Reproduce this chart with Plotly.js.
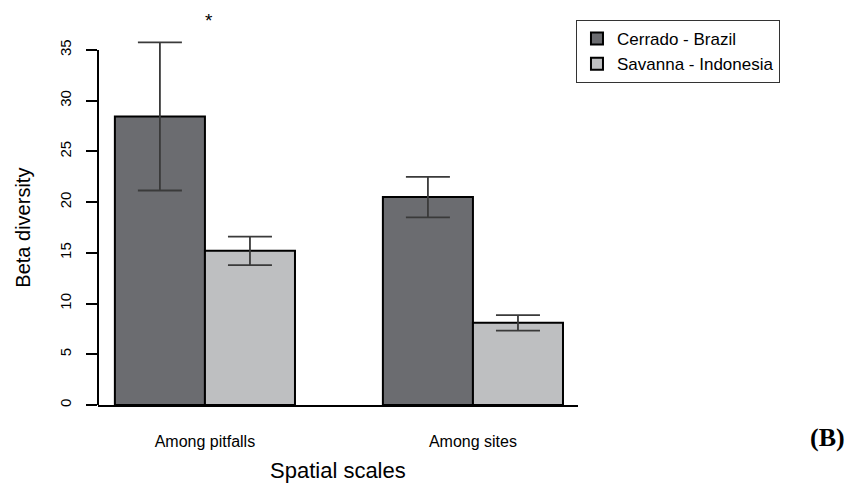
<!DOCTYPE html>
<html>
<head>
<meta charset="utf-8">
<script src="https://cdn.plot.ly/plotly-3.0.1.min.js"></script>
<style>
  html, body { margin: 0; padding: 0; background: #fff; }
  #chart { width: 854px; height: 487px; }
</style>
</head>
<body>
<div id="chart"></div>
<script>
const categories = ['Among pitfalls', 'Among sites'];
const seriesNames = ['Cerrado - Brazil', 'Savanna - Indonesia'];
const cerradoValues = [28.45, 20.5];
const cerradoErrors = [7.3, 2.0];
const savannaValues = [15.2, 8.1];
const savannaErrors = [1.4, 0.77];
const yTickValues = [0, 5, 10, 15, 20, 25, 30, 35];

const FONT = 'Liberation Sans, Arial, Helvetica, sans-serif';

const errStyle = { type: 'data', visible: true, color: '#3a3a3a', thickness: 1.8, width: 22 };

const traces = [
  {
    type: 'bar', name: seriesNames[0], x: categories, y: cerradoValues,
    marker: { color: '#6b6c70', line: { color: '#000000', width: 2 } },
    error_y: Object.assign({ array: cerradoErrors }, errStyle),
    hoverinfo: 'skip'
  },
  {
    type: 'bar', name: seriesNames[1], x: categories, y: savannaValues,
    marker: { color: '#bebfc1', line: { color: '#000000', width: 2 } },
    error_y: Object.assign({ array: savannaErrors }, errStyle),
    hoverinfo: 'skip'
  }
];

const layout = {
  width: 854, height: 487,
  margin: { l: 98, r: 276, t: 20, b: 82, pad: 0 },
  paper_bgcolor: '#ffffff', plot_bgcolor: '#ffffff',
  font: { family: FONT, color: '#000000' },
  barmode: 'group', bargap: 0.328, bargroupgap: 0,
  showlegend: true,
  legend: {
    x: 0.9958, y: 1.0, xanchor: 'left', yanchor: 'top',
    bordercolor: '#333333', borderwidth: 1, bgcolor: '#ffffff',
    font: { family: FONT, size: 17, color: '#000000' },
    traceorder: 'normal'
  },
  xaxis: {
    type: 'category', range: [-0.399, 1.392],
    showline: true, linecolor: '#000000', linewidth: 2,
    ticks: '', showgrid: false, zeroline: false,
    tickfont: { family: FONT, size: 16, color: '#000000' },
    ticklabelstandoff: 21, fixedrange: true
  },
  yaxis: {
    range: [0, 37.96], tickvals: yTickValues, ticktext: yTickValues.map(String),
    ticks: 'outside', ticklen: 11, tickwidth: 2, tickcolor: '#000000',
    showline: false, showgrid: false, zeroline: false,
    tickangle: -90, tickfont: { family: FONT, size: 15, color: '#000000' },
    ticklabelstandoff: 9, fixedrange: true
  },
  shapes: [
    { type: 'line', xref: 'paper', yref: 'y', x0: 0, x1: 0, y0: 0, y1: 35,
      line: { color: '#000000', width: 2 } }
  ],
  annotations: [
    { text: 'Beta diversity', xref: 'paper', yref: 'y', x: -0.158, y: 17.5,
      textangle: -90, showarrow: false, xanchor: 'center', yanchor: 'middle',
      font: { family: FONT, size: 20, color: '#000000' } },
    { text: 'Spatial scales', xref: 'paper', yref: 'paper', x: 0.5, y: -0.169,
      showarrow: false, xanchor: 'center', yanchor: 'middle',
      font: { family: FONT, size: 22, color: '#000000' } },
    { text: '*', xref: 'paper', yref: 'y', x: 0.231, y: 37.9,
      showarrow: false, xanchor: 'center', yanchor: 'middle',
      font: { family: FONT, size: 19, color: '#000000' } },
    { text: '<b>(B)</b>', xref: 'paper', yref: 'paper', x: 1.519, y: -0.0857,
      showarrow: false, xanchor: 'center', yanchor: 'middle',
      font: { family: 'Liberation Serif, Times New Roman, serif', size: 26, color: '#000000' } }
  ]
};

Plotly.newPlot('chart', traces, layout, { displayModeBar: false, staticPlot: true });
</script>
</body>
</html>
